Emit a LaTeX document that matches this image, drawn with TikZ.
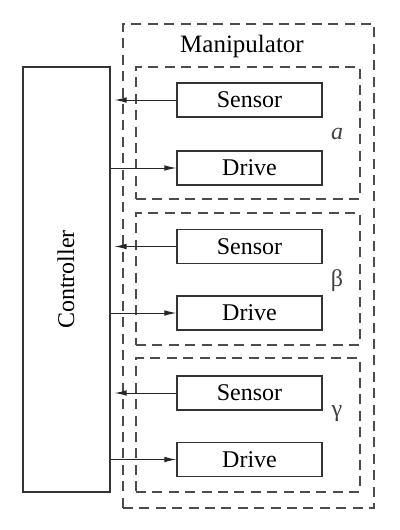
\documentclass[tikz,border=0pt]{standalone}
\usepackage{fontspec}
\setmainfont{Liberation Serif}
\usetikzlibrary{arrows.meta}
\begin{document}
\begin{tikzpicture}[x=0.5pt, y=-0.5pt,
        block/.style={rectangle, draw=black!80, line width=0.6pt, minimum width=72.5pt, minimum height=17pt, inner sep=0pt, font=\fontsize{12}{14}\selectfont},
        group/.style={rectangle, draw=black!70, line width=0.6pt, dash pattern=on 5pt off 3.2pt, inner sep=0pt},
        arrow/.style={-{Latex[length=6pt,width=2.8pt]}, draw=black!85, line width=0.5pt},
        tag/.style={font=\fontsize{12}{14}\selectfont, text=black!75}
    ]
    \useasboundingbox (0,0) rectangle (400,530);
    % manipulator and controller
    \node[group, minimum width=125.5pt, minimum height=242pt] (man) at (248.5,266) {};
    \node[tag, text=black, font=\fontsize{12.5}{14}\selectfont] (mantxt) at (242,46) {Manipulator};
    \node[rectangle, draw=black!80, line width=0.6pt, minimum width=43.5pt, minimum height=212.5pt] (ctrl) at (66.5,279.5) {};
    \node[rotate=90, font=\fontsize{12}{14}\selectfont] (ctrltxt) at (66,279.5) {Controller};
    % joint a
    \node[group, minimum width=112pt, minimum height=66pt] (ga) at (248,133) {};
    \node[block] (sa) at (249.5,100) {Sensor};
    \node[block] (da) at (249.5,168) {Drive};
    \node[tag] (la) at (337,134) {\textit{a}};
    % joint beta
    \node[group, minimum width=112pt, minimum height=66pt] (gb) at (248,279) {};
    \node[block] (sb) at (249.5,246.5) {Sensor};
    \node[block] (db) at (249.5,313) {Drive};
    \node[tag] (lb) at (337,281) {β};
    % joint gamma
    \node[group, minimum width=112pt, minimum height=67pt] (gc) at (248,425) {};
    \node[block] (sc) at (249.5,393) {Sensor};
    \node[block] (dc) at (249.5,459.5) {Drive};
    \node[tag] (lc) at (337,414) {γ};
    % signals
    \draw[arrow, shorten >=2pt] (sa.west) -- (ctrl.east |- sa.west);
    \draw[arrow] (ctrl.east |- da.west) -- (da.west);
    \draw[arrow, shorten >=2pt] (sb.west) -- (ctrl.east |- sb.west);
    \draw[arrow] (ctrl.east |- db.west) -- (db.west);
    \draw[arrow, shorten >=2pt] (sc.west) -- (ctrl.east |- sc.west);
    \draw[arrow] (ctrl.east |- dc.west) -- (dc.west);
\end{tikzpicture}
\end{document}
